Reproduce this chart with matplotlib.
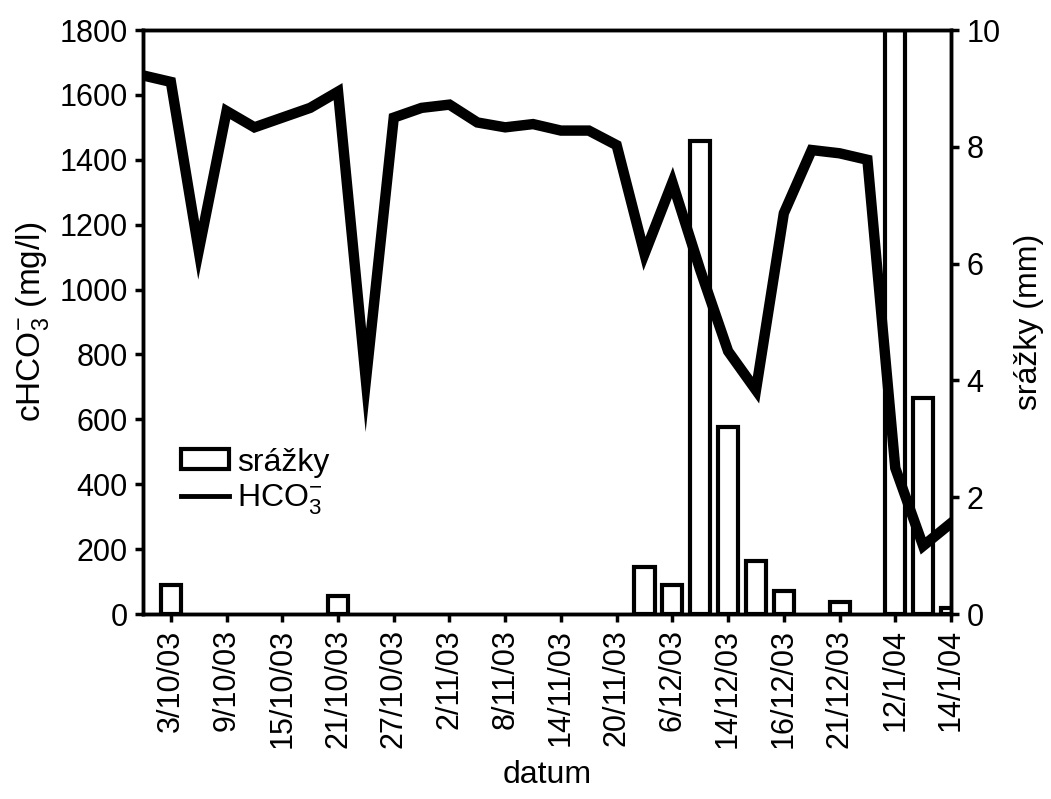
import matplotlib
matplotlib.use("Agg")
import matplotlib.pyplot as plt
import numpy as np
from matplotlib.lines import Line2D
from matplotlib.patches import Patch

plt.rcParams['font.family'] = ['Liberation Sans', 'DejaVu Sans']
plt.rcParams['mathtext.fontset'] = 'custom'
plt.rcParams['mathtext.rm'] = 'Liberation Sans'
plt.rcParams['mathtext.it'] = 'Liberation Sans'
plt.rcParams['mathtext.bf'] = 'Liberation Sans'

tick_labels = ["3/10/03", "9/10/03", "15/10/03", "21/10/03", "27/10/03", "2/11/03",
               "8/11/03", "14/11/03", "20/11/03", "6/12/03", "14/12/03", "16/12/03",
               "21/12/03", "12/1/04", "14/1/04"]

hco3 = [1660, 1640, 1120, 1550, 1500, 1530, 1560, 1610, 720, 1530,
        1560, 1570, 1515, 1500, 1510, 1490, 1490, 1445, 1110, 1330,
        1060, 810, 690, 1235, 1430, 1420, 1400, 450, 210, 280]

srazky = [0, 0.5, 0, 0, 0, 0, 0, 0.3, 0, 0,
          0, 0, 0, 0, 0, 0, 0, 0, 0.8, 0.5,
          8.1, 3.2, 0.9, 0.4, 0, 0.2, 0, 10, 3.7, 0.1]

x = np.arange(len(hco3))

fig = plt.figure(figsize=(10.51, 7.99), dpi=100)
ax = fig.add_axes([143/1051, 1-614/799, (951-143)/1051, (614-30)/799])
ax2 = ax.twinx()

mask = np.array(srazky) > 0
ax2.bar(x[mask], np.array(srazky)[mask], width=0.72, facecolor='white',
        edgecolor='black', linewidth=3.0)
ax.plot(x, hco3, color='black', linewidth=7.5, solid_joinstyle='miter')

ax.set_zorder(ax2.get_zorder() + 1)
ax.patch.set_visible(False)

ax.set_xlim(0, 29)
ax.set_ylim(0, 1800)
ax2.set_ylim(0, 10)
ax.set_yticks(np.arange(0, 1801, 200))
ax2.set_yticks(np.arange(0, 11, 2))
ax.set_xticks(np.arange(1, 30, 2))
ax.set_xticklabels(tick_labels, rotation=90)

for a in (ax, ax2):
    for s in a.spines.values():
        s.set_linewidth(2.5)
    a.tick_params(axis='both', direction='out', length=6, width=2.5, labelsize=22, pad=5)

ax.set_xlabel('datum', fontsize=23, labelpad=8)
ax.set_ylabel('cHCO$_3^{-}$ (mg/l)', fontsize=24, labelpad=6)
ax2.set_ylabel('srážky (mm)', fontsize=23, labelpad=10)

handles = [Patch(facecolor='white', edgecolor='black', linewidth=3.0),
           Line2D([0], [0], color='black', linewidth=3.5)]
leg = ax.legend(handles, ['srážky', 'HCO$_3^{-}$'], loc='upper left',
                bbox_to_anchor=(0.047, 0.285), frameon=False, fontsize=23,
                handlelength=1.5, handleheight=0.6, handletextpad=0.25,
                labelspacing=0.15, borderpad=0.0, borderaxespad=0.0)

fig.savefig('out.png', dpi=100)
